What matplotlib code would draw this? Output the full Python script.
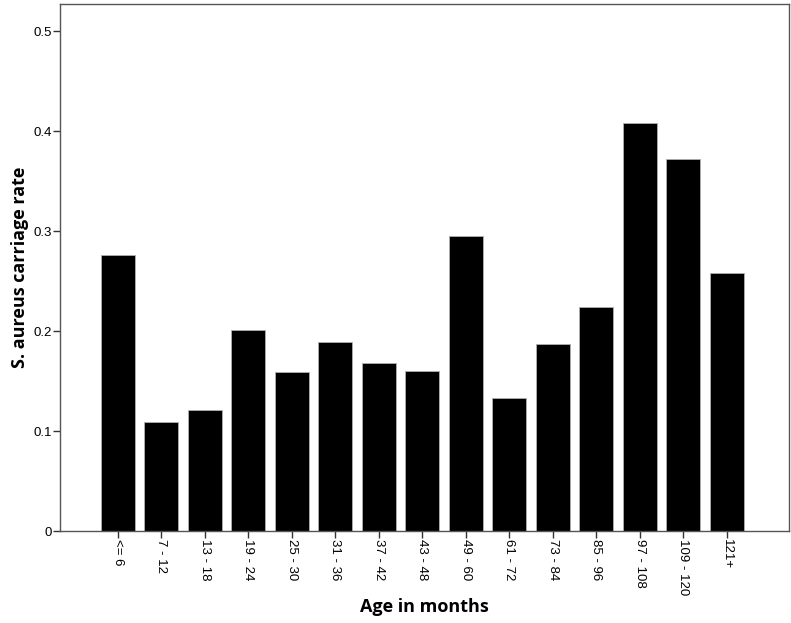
import matplotlib.pyplot as plt

ageGroups = ['<= 6', '7 - 12', '13 - 18', '19 - 24', '25 - 30', '31 - 36', '37 - 42',
             '43 - 48', '49 - 60', '61 - 72', '73 - 84', '85 - 96', '97 - 108',
             '109 - 120', '121+']
carriageRate = [0.276, 0.109, 0.121, 0.201, 0.159, 0.189, 0.168,
                0.160, 0.295, 0.133, 0.187, 0.224, 0.408, 0.372, 0.258]

fig = plt.figure(figsize=(7.91, 6.23), dpi=100)
ax = fig.add_axes([60 / 791, 1 - 531 / 623, 729 / 791, 527 / 623])

positions = list(range(len(ageGroups)))
ax.bar(positions, carriageRate, width=0.78, color='black', edgecolor='#b0b0b0', linewidth=0.6)

ax.set_xlim(-1.33, 15.43)
ax.set_ylim(0, 0.527)
ax.set_yticks([0, 0.1, 0.2, 0.3, 0.4, 0.5])
ax.set_yticklabels(['0', '0.1', '0.2', '0.3', '0.4', '0.5'], fontname='Liberation Sans', fontsize=9.5)
ax.set_xticks(positions)
ax.set_xticklabels(ageGroups, rotation=270, fontname='Liberation Sans', fontsize=9.5, va='top', ha='center')

ax.tick_params(direction='out', length=5, width=1, color='#333333', pad=1)
for spine in ax.spines.values():
    spine.set_color('#555555')
    spine.set_linewidth(1)

ax.set_xlabel('Age in months', fontname='Open Sans', fontweight='bold', fontsize=13, va='center')
ax.set_ylabel('S. aureus carriage rate', fontname='Open Sans', fontweight='bold', fontsize=13, va='center')
ax.xaxis.set_label_coords(0.5, -0.144)
ax.yaxis.set_label_coords(-0.055, 0.5)

fig.savefig('out.png', dpi=100)
